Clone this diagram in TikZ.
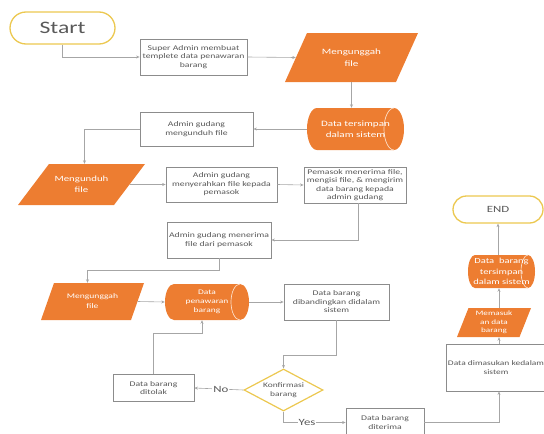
\documentclass[tikz,border=0pt]{standalone}
\usepackage{fontspec}
\setmainfont{Carlito}[FakeStretch=1.35]
\usetikzlibrary{shapes.geometric,arrows.meta}
\definecolor{orng}{RGB}{237,125,49}
\definecolor{ylw}{RGB}{236,200,80}
\definecolor{txtg}{RGB}{89,89,89}
\definecolor{boxg}{RGB}{140,140,140}
\definecolor{lineg}{RGB}{166,166,166}
\definecolor{pale}{RGB}{252,222,200}
\newcommand\parafill[5]{\fill[orng] ({#1-#3/2-#5/2},{#2+#4/2}) -- ({#1+#3/2-#5/2},{#2+#4/2}) -- ({#1+#3/2+#5/2},{#2-#4/2}) -- ({#1-#3/2+#5/2},{#2-#4/2}) -- cycle;}
% cx, cy, w, h, cap radius
\newcommand\cylfill[5]{%
  \fill[orng] ({#1-#3/2+#5},{#2-#4/2}) -- ({#1+#3/2-#5},{#2-#4/2})
    arc[start angle=90,end angle=-90,x radius={#5*1pt},y radius={#4/2*1pt}]
    -- ({#1-#3/2+#5},{#2+#4/2})
    arc[start angle=270,end angle=90,x radius={#5*1pt},y radius={#4/2*1pt}] -- cycle;
  \draw[pale, line width=0.7pt] ({#1+#3/2-#5},{#2-#4/2})
    arc[start angle=90,end angle=270,x radius={#5*1pt},y radius={#4/2*1pt}];}
\begin{document}
\begin{tikzpicture}[x=1pt,y=-1pt,
  box/.style={draw=boxg, line width=0.8pt, fill=white, text=txtg, align=center, inner sep=1pt, font=\fontsize{7.2}{8.5}\selectfont},
  paratxt/.style={text=white, align=center, inner sep=0pt},
  term/.style={draw=ylw, line width=1.3pt, fill=white, text=txtg},
  arr/.style={draw=lineg, line width=0.6pt, -{Stealth[length=3.5pt,width=3pt]}},
  lbl/.style={fill=white, text=txtg, inner sep=1pt, font=\fontsize{9.5}{10}\selectfont}
]
\useasboundingbox (0,0) rectangle (544,434);

% terminals
\node[term, minimum width=105pt, minimum height=32pt, rounded corners=16pt, font=\fontsize{17.5}{18}\selectfont] (s) at (62.5,28) {Start};
\node[term, minimum width=90pt, minimum height=27pt, rounded corners=13.5pt, font=\fontsize{9.5}{10}\selectfont] (e) at (498,209.5) {END};

% boxes
\node[box, minimum width=107pt, minimum height=36pt] (b1) at (193.5,57) {Super Admin membuat\\templete data penawaran\\barang};
\node[box, minimum width=113pt, minimum height=34pt] (b2) at (196.5,129) {Admin gudang\\mengunduh file};
\node[box, minimum width=111pt, minimum height=35pt] (b3) at (221.5,184.5) {Admin gudang\\menyerahkan file kepada\\pemasok};
\node[box, minimum width=102pt, minimum height=36pt] (b4) at (355,185) {Pemasok menerima file,\\mengisi file, \& mengirim\\data barang kepada\\admin gudang};
\node[box, minimum width=104pt, minimum height=36pt] (b5) at (219,240) {Admin gudang menerima\\file dari pemasok};
\node[box, minimum width=105pt, minimum height=36pt] (b6) at (336.5,302) {Data barang\\dibandingkan didalam\\sistem};
\node[box, minimum width=81pt, minimum height=27pt] (b7) at (153.5,388) {Data barang\\ditolak};
\node[box, minimum width=78pt, minimum height=29pt] (b8) at (385,422.5) {Data barang\\diterima};
\node[box, minimum width=100pt, minimum height=47pt, font=\fontsize{7}{8.5}\selectfont] (b9) at (496,367.5) {Data dimasukan kedalam\\sistem};

% parallelograms
\parafill{351.5}{57.5}{111}{49}{22}
\node[paratxt, minimum width=111pt, minimum height=49pt, font=\fontsize{8.2}{11.5}\selectfont] (p1) at (351.5,57.5) {Mengunggah\\file};
\parafill{81.5}{184.5}{96}{41}{31}
\node[paratxt, minimum width=96pt, minimum height=41pt, font=\fontsize{8}{11}\selectfont] (p2) at (81.5,184.5) {Mengunduh\\file};
\parafill{92.5}{301.5}{90}{37}{13}
\node[paratxt, minimum width=90pt, minimum height=37pt, font=\fontsize{7.1}{10}\selectfont] (p3) at (92.5,301.5) {Mengunggah\\file};
\parafill{494}{322.5}{62.5}{29}{11.5}
\node[paratxt, minimum width=62.5pt, minimum height=29pt, font=\fontsize{6.8}{8.6}\selectfont] (p4) at (494,322.5) {Memasuk\\an data\\barang};

% cylinders
\cylfill{355.5}{129}{97}{42}{10}
\node[paratxt, minimum width=97pt, minimum height=42pt, font=\fontsize{8.2}{10.5}\selectfont] (c1) at (355.5,129) {Data tersimpan\\dalam sistem};
\cylfill{207}{302}{84}{36}{9}
\node[paratxt, minimum width=84pt, minimum height=36pt, font=\fontsize{7}{9.2}\selectfont] (c2) at (207,302) {Data\\penawaran\\barang};
\cylfill{501.5}{271.5}{67}{33}{7}
\node[paratxt, minimum width=67pt, minimum height=33pt, font=\fontsize{7.8}{10.2}\selectfont] (c3) at (501.5,271.5) {Data\ \ barang\\tersimpan\\dalam sistem};

% decision
\node[diamond, draw=ylw, line width=1.2pt, fill=white, minimum width=79pt, minimum height=42pt, inner sep=0pt, aspect=2, text=txtg, align=center, font=\fontsize{7}{9}\selectfont] (d) at (283.5,390) {Konfirmasi\\barang};

% connectors
\draw[arr] (s.south) |- (b1.west);
\draw[arr] (b1.east) -- (p1.west);
\draw[arr] (p1.south) -- (p1.south |- c1.north);
\draw[arr] (c1.west) -- (b2.east);
\draw[arr] (b2.west) -| ([xshift=3pt]p2.north);
\draw[arr] (p2.east) -- (b3.west);
\draw[arr] (b3.east) -- (b4.west);
\draw[arr] ([xshift=3pt]b4.south) |- (b5.east);
\draw[arr] (b5.south) -- ++(0,12) -| ([xshift=-5pt]p3.north);
\draw[arr] (p3.east) -- (c2.west);
\draw[arr] (c2.east) -- (b6.west);
\draw[arr] (b6.south) -- ++(0,35) -| (d.north);
\draw[arr] (d.west) -- node[lbl, pos=0.46] {No} (b7.east);
\draw[arr] (b7.north) -- ++(0,-41) -| ([xshift=-5pt]c2.south);
\draw[arr] (d.south) |- node[lbl, pos=0.69] {Yes} (b8.west);
\draw[arr] (b8.east) -| ([xshift=3pt]b9.south);
\draw[arr] ([xshift=3pt]b9.north) -- ([xshift=3pt]b9.north |- p4.south);
\draw[arr] ([xshift=5pt]p4.north) -- ([xshift=5pt]p4.north |- c3.south);
\draw[arr] (c3.north -| e.south) -- (e.south);
\end{tikzpicture}
\end{document}
